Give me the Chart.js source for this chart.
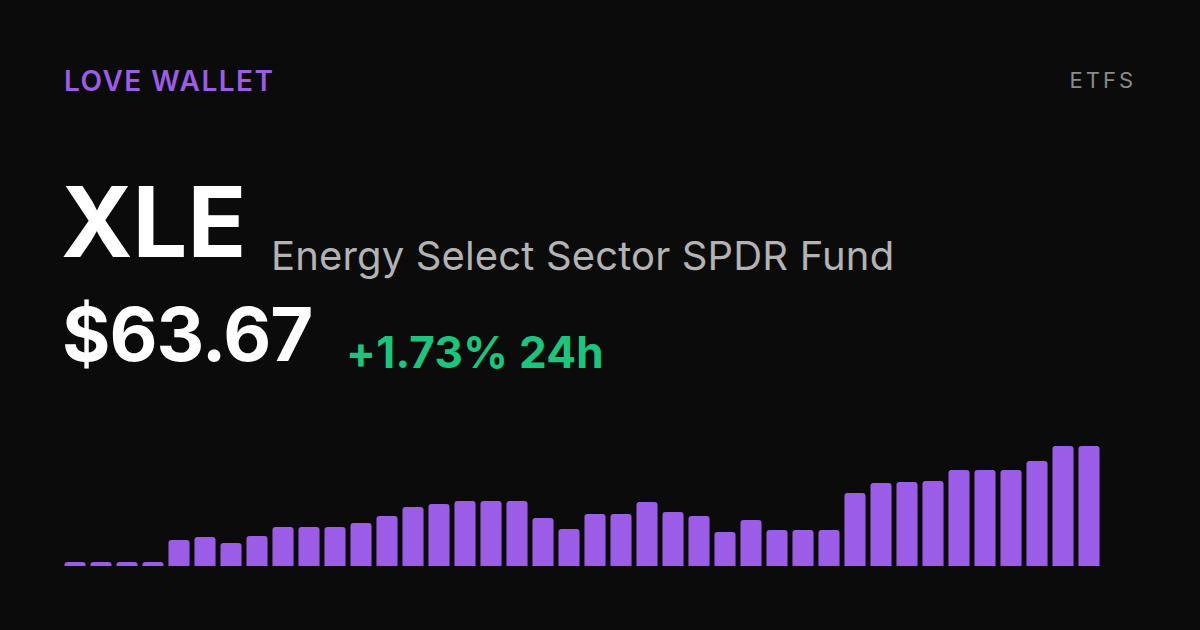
<!DOCTYPE html>
<html>
<head>
<meta charset="utf-8">
<script src="https://cdn.jsdelivr.net/npm/chart.js@4"></script>
<style>
  html, body { margin: 0; padding: 0; }
  body { width: 1200px; height: 630px; background: #0b0b0b; position: relative; overflow: hidden; font-family: Inter, "Noto Sans", sans-serif; }
  .t { position: absolute; white-space: nowrap; line-height: 1; }
  #brand { left: 64px; top: 67px; font-size: 28px; font-weight: 600; color: #9b5de5; letter-spacing: 1.5px; }
  #kind { right: 64px; top: 69px; font-size: 22px; font-weight: 400; color: #8a8a8a; letter-spacing: 3px; }
  #ticker { left: 61px; top: 173px; font-size: 97px; font-weight: 700; color: #ffffff; letter-spacing: 0px; }
  #name { left: 271px; top: 236px; font-size: 40px; font-weight: 400; color: #b3b3b3; letter-spacing: 0.15px; }
  #price { left: 62px; top: 297px; font-size: 74px; font-weight: 700; color: #ffffff; letter-spacing: -1px; }
  #change { left: 346px; top: 330px; font-size: 44px; font-weight: 700; color: #1dc47e; letter-spacing: 0.3px; }
  #wrap { position: absolute; left: 62px; top: 420px; width: 1040px; height: 146px; }
</style>
</head>
<body>
<div class="t" id="brand">LOVE WALLET</div>
<div class="t" id="kind">ETFS</div>
<div class="t" id="ticker">XLE</div>
<div class="t" id="name">Energy Select Sector SPDR Fund</div>
<div class="t" id="price">$63.67</div>
<div class="t" id="change">+1.73% 24h</div>
<div id="wrap"><canvas id="bars"></canvas></div>
<script>
// Precios de cierre (40 periodos)
const days = ['1','2','3','4','5','6','7','8','9','10','11','12','13','14','15','16','17','18','19','20',
              '21','22','23','24','25','26','27','28','29','30','31','32','33','34','35','36','37','38','39','40'];
const prices = [56.26, 56.26, 56.26, 56.26, 57.66, 57.86, 57.47, 57.92, 58.50, 58.50,
                58.50, 58.75, 59.20, 59.78, 59.97, 60.16, 60.16, 60.16, 59.07, 58.37,
                59.33, 59.33, 60.10, 59.46, 59.20, 58.18, 58.94, 58.30, 58.30, 58.30,
                60.67, 61.31, 61.38, 61.44, 62.14, 62.14, 62.14, 62.72, 63.67, 63.67];
const yMin = 56.0;
const yMax = 65.34;

const barsChart = new Chart(document.getElementById('bars'), {
    type: 'bar',
    data: {
        labels: days,
        datasets: [{
            data: prices,
            backgroundColor: '#9b5de5',
            borderRadius: 3,
            borderSkipped: false,
            categoryPercentage: 0.81,
            barPercentage: 1.0
        }]
    },
    options: {
        responsive: true,
        maintainAspectRatio: false,
        animation: false,
        layout: { padding: 0 },
        scales: {
            x: { display: false, grid: { display: false } },
            y: { display: false, min: yMin, max: yMax, grid: { display: false } }
        },
        plugins: {
            legend: { display: false },
            tooltip: { enabled: false }
        }
    }
});
</script>
</body>
</html>
